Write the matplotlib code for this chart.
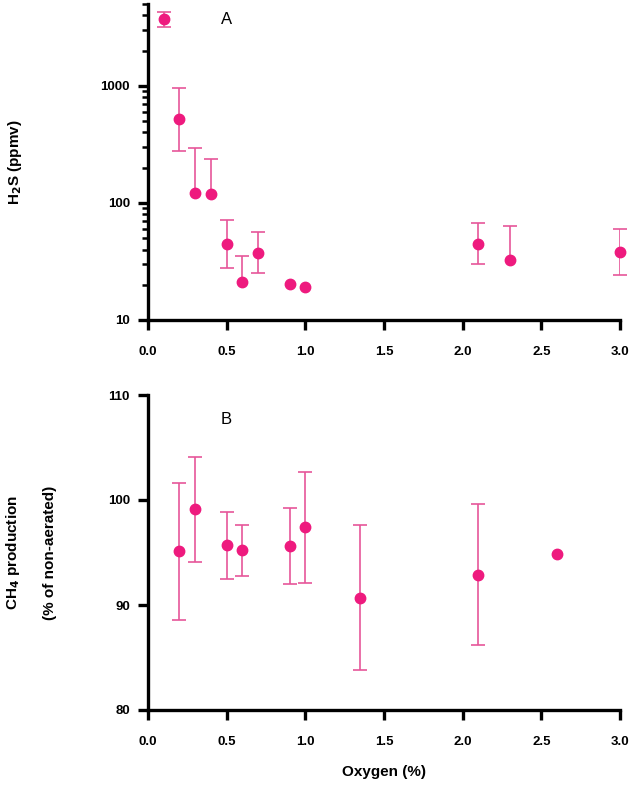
import matplotlib
matplotlib.use("Agg")
import matplotlib.pyplot as plt
import numpy as np
from matplotlib.ticker import FixedLocator, FixedFormatter, NullFormatter

# Panel A: H2S (ppmv) vs oxygen (%)
oxy_a = [0.1, 0.2, 0.3, 0.4, 0.5, 0.6, 0.7, 0.9, 1.0, 2.1, 2.3, 3.0]
h2s = [3700, 520, 121, 119, 45, 21, 37, 20.2, 19.1, 45, 32.3, 38]
h2s_err_lo = [500, 240, 0, 0, 17, 0, 12, 0, 0, 15, 0, 14]
h2s_err_hi = [600, 430, 176, 117, 26, 14.5, 19, 0, 0, 23, 31, 22]

# Panel B: CH4 production (% of non-aerated) vs oxygen (%)
oxy_b = [0.2, 0.3, 0.5, 0.6, 0.9, 1.0, 1.35, 2.1, 2.6]
ch4 = [95.1, 99.1, 95.7, 95.2, 95.6, 97.4, 90.7, 92.9, 94.9]
ch4_err = [6.5, 5.0, 3.2, 2.45, 3.6, 5.3, 6.9, 6.75, 0]

x_ticks = [0.0, 0.5, 1.0, 1.5, 2.0, 2.5, 3.0]
x_ticklabels = ["0.0", "0.5", "1.0", "1.5", "2.0", "2.5", "3.0"]
ya_ticks = [10, 100, 1000]
ya_ticklabels = ["10", "100", "1000"]
yb_ticks = [80, 90, 100, 110]
yb_ticklabels = ["80", "90", "100", "110"]

plt.rcParams['font.family'] = ['Liberation Sans', 'DejaVu Sans']
plt.rcParams['font.weight'] = 'bold'

W, H = 634, 785
fig = plt.figure(figsize=(W / 100, H / 100), dpi=100)

mk_color = '#EE1A7E'
eb_color = '#E6569A'
cap_ms = 10
ELW = 1.2


def draw_errors(ax, x, y, lo, hi):
    x = np.asarray(x, float)
    y = np.asarray(y, float)
    lo = np.asarray(lo, float)
    hi = np.asarray(hi, float)
    has_hi = hi > 0
    has_lo = lo > 0
    # vertical stems
    ax.vlines(x[has_hi], y[has_hi], (y + hi)[has_hi], color=eb_color, lw=ELW, zorder=2)
    ax.vlines(x[has_lo], (y - lo)[has_lo], y[has_lo], color=eb_color, lw=ELW, zorder=2)
    # caps
    ax.plot(x[has_hi], (y + hi)[has_hi], linestyle='none', marker='_', markersize=cap_ms,
            markeredgewidth=ELW, color=eb_color, zorder=2, clip_on=False)
    ax.plot(x[has_lo], (y - lo)[has_lo], linestyle='none', marker='_', markersize=cap_ms,
            markeredgewidth=ELW, color=eb_color, zorder=2, clip_on=False)


def style(ax):
    for s in ['top', 'right']:
        ax.spines[s].set_visible(False)
    for s in ['left', 'bottom']:
        ax.spines[s].set_linewidth(2.4)
    ax.tick_params(axis='both', which='major', direction='out', length=7, width=2.4,
                   labelsize=9.5)
    ax.tick_params(axis='x', which='major', pad=12)
    ax.tick_params(axis='y', which='major', pad=6)
    ax.tick_params(axis='y', which='minor', direction='out', length=4, width=1.8)
    for lab in ax.get_xticklabels() + ax.get_yticklabels():
        lab.set_fontweight('bold')


# Top panel
axA = fig.add_axes([148 / W, 1 - 320 / H, (620 - 148) / W, (320 - 4) / H])
axA.set_yscale('log')
axA.set_xlim(0, 3.0)
axA.set_ylim(10, 5000)
draw_errors(axA, oxy_a, h2s, h2s_err_lo, h2s_err_hi)
axA.plot(oxy_a, h2s, 'o', color=mk_color, markersize=7.5, zorder=3, clip_on=False)
axA.yaxis.set_major_locator(FixedLocator(ya_ticks))
axA.yaxis.set_major_formatter(FixedFormatter(ya_ticklabels))
minors = [m * 10 ** d for d in range(1, 4) for m in range(2, 10) if m * 10 ** d <= 5000]
axA.yaxis.set_minor_locator(FixedLocator(minors))
axA.yaxis.set_minor_formatter(NullFormatter())
axA.set_xticks(x_ticks)
axA.set_xticklabels(x_ticklabels)
style(axA)
axA.set_ylabel(r'H$_2$S (ppmv)', fontsize=11, fontweight='bold')
axA.yaxis.set_label_coords(-0.262, 0.5)
axA.text(0.5, 3700, 'A', fontsize=12, fontweight='normal', ha='center', va='center')

# Bottom panel
axB = fig.add_axes([148 / W, 1 - 710 / H, (620 - 148) / W, (710 - 395) / H])
axB.set_xlim(0, 3.0)
axB.set_ylim(80, 110)
draw_errors(axB, oxy_b, ch4, ch4_err, ch4_err)
axB.plot(oxy_b, ch4, 'o', color=mk_color, markersize=7.5, zorder=3)
axB.set_yticks(yb_ticks)
axB.set_yticklabels(yb_ticklabels)
axB.set_xticks(x_ticks)
axB.set_xticklabels(x_ticklabels)
style(axB)
axB.set_ylabel('CH$_4$ production\n(% of non-aerated)', fontsize=11, fontweight='bold',
               linespacing=2.9)
axB.yaxis.set_label_coords(-0.192, 0.5)
axB.set_xlabel('Oxygen (%)', fontsize=11, fontweight='bold', labelpad=12)
axB.text(0.5, 107.7, 'B', fontsize=12, fontweight='normal', ha='center', va='center')

fig.savefig('out.png', dpi=100)
